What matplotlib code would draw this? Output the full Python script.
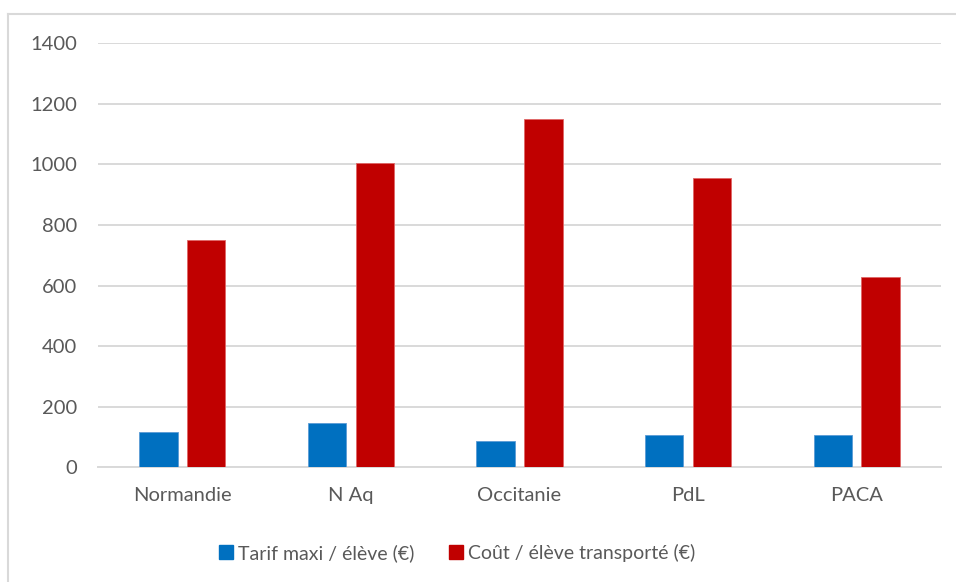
import matplotlib
matplotlib.use("Agg")
import matplotlib.pyplot as plt
import numpy as np
from matplotlib.lines import Line2D

regions = ["Normandie", "N Aq", "Occitanie", "PdL", "PACA"]
tarif_maxi = [115, 145, 86, 106, 106]
cout_eleve = [750, 1005, 1150, 955, 630]
series_labels = ["Tarif maxi / élève (€)", "Coût / élève transporté (€)"]
y_ticks = [0, 200, 400, 600, 800, 1000, 1200, 1400]

BLUE = "#0070C0"
RED = "#C00000"
GRID = "#D9D9D9"
TEXT = "#595959"

plt.rcParams["font.family"] = ["Lato", "DejaVu Sans"]

W, H = 956, 582
fig = plt.figure(figsize=(W / 100, H / 100), dpi=100)
ax = fig.add_axes([98 / W, (H - 467.3) / H, (941 - 98) / W, (467.3 - 43.3) / H])

x = np.arange(len(regions))
width = 0.228
offset = 0.142
ax.bar(x - offset, tarif_maxi, width, color=BLUE, edgecolor="#5B9BD5",
       linewidth=0.6, label=series_labels[0], zorder=3)
ax.bar(x + offset, cout_eleve, width, color=RED, edgecolor="#E06666",
       linewidth=0.6, label=series_labels[1], zorder=3)

ax.set_xlim(-0.5, len(regions) - 0.5)
ax.set_ylim(0, 1400)
ax.set_yticks(y_ticks)
ax.set_xticks(x)
ax.set_xticklabels(regions)
ax.yaxis.grid(True, color=GRID, linewidth=1.4, zorder=0)
ax.set_axisbelow(True)
for side in ("top", "right", "left"):
    ax.spines[side].set_visible(False)
ax.spines["bottom"].set_color(GRID)
ax.spines["bottom"].set_linewidth(1.4)
ax.tick_params(axis="both", length=0, labelsize=14.5, colors=TEXT)
ax.tick_params(axis="y", pad=15)
ax.tick_params(axis="x", pad=14)

# outer chart frame (top and left edges)
fig.add_artist(Line2D([8 / W, 1.0], [(H - 14) / H, (H - 14) / H],
                      transform=fig.transFigure, color=GRID, linewidth=1.5))
fig.add_artist(Line2D([8 / W, 8 / W], [0.0, (H - 14) / H],
                      transform=fig.transFigure, color=GRID, linewidth=1.5))

handles = [plt.Rectangle((0, 0), 1, 1, color=BLUE),
           plt.Rectangle((0, 0), 1, 1, color=RED)]
fig.legend(handles, series_labels, loc="center", bbox_to_anchor=(457 / W, 29 / H),
           ncol=2, frameon=False, fontsize=14, labelcolor=TEXT,
           handlelength=0.7, handleheight=0.7, handletextpad=0.25,
           columnspacing=1.8)

fig.savefig("out.png", dpi=100, facecolor="white")
